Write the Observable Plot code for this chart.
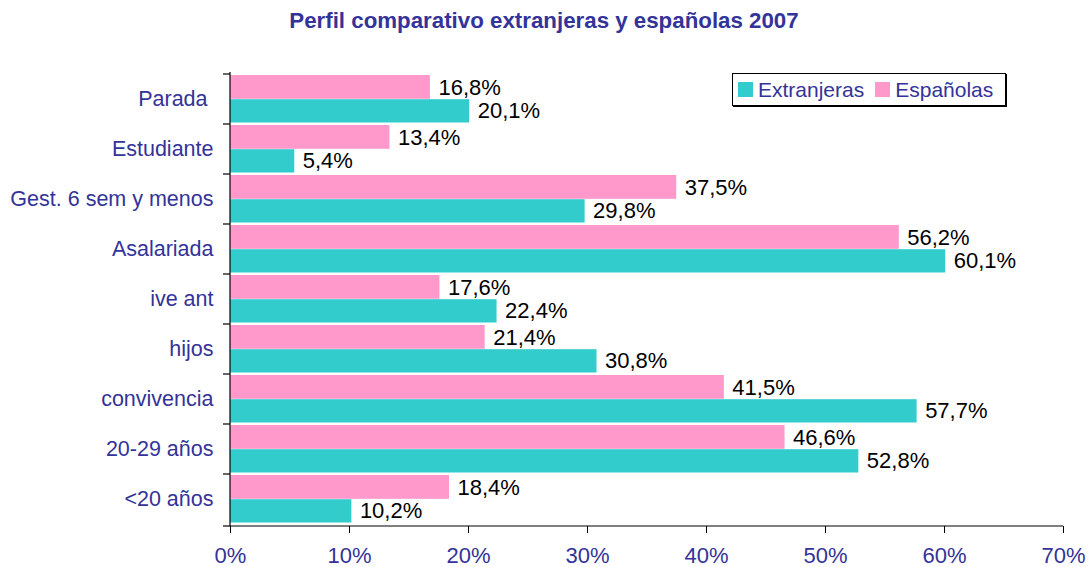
<!DOCTYPE html>
<html>
<head>
<meta charset="utf-8">
<script src="https://cdn.jsdelivr.net/npm/d3@7"></script>
<script src="https://cdn.jsdelivr.net/npm/@observablehq/plot@0.6"></script>
<style>
  body { margin: 0; background: #fff; font-family: Arial, "Liberation Sans", sans-serif; }
  #wrap { position: relative; width: 1088px; height: 567px; overflow: hidden; }
  #title { height: 40px; line-height: 42px; text-align: center; font-weight: bold; font-size: 22.3px; color: #333399; }
  #legend { position: absolute; left: 732px; top: 73px; width: 272px; height: 31px; border: 1px solid #000; box-shadow: 1px 1px 0 #000; background: #fff; display: flex; align-items: center; font-size: 21px; color: #333399; }
  .sw { width: 15px; height: 15px; display: inline-block; margin-right: 5px; }
  .item { display: flex; align-items: center; }
</style>
</head>
<body>
<div id="wrap">
  <div id="title">Perfil comparativo extranjeras y españolas 2007</div>
  <div id="chart"></div>
  <div id="legend"></div>
</div>
<script>
const categories = ["Parada ", "Estudiante", "Gest. 6 sem y menos", "Asalariada", "ive ant", "hijos", "convivencia", "20-29 años", "<20 años"];
const extranjeras = [20.1, 5.4, 29.8, 60.1, 22.4, 30.8, 57.7, 52.8, 10.2];
const espanolas = [16.8, 13.4, 37.5, 56.2, 17.6, 21.4, 41.5, 46.6, 18.4];
const seriesNames = ["Extranjeras", "Españolas"];
const seriesColors = ["#33CCCC", "#FF99CC"];
const xTicks = [0, 10, 20, 30, 40, 50, 60, 70];

const rowsExt = categories.map((c, i) => ({cat: c, value: extranjeras[i]}));
const rowsEsp = categories.map((c, i) => ({cat: c, value: espanolas[i]}));
const fmt = v => v.toFixed(1).replace(".", ",") + "%";
const FONT = "Arial, 'Liberation Sans', sans-serif";

const axisLines = (index, scales, values, dim) => {
  const g = d3.create("svg:g").attr("stroke", "#000").attr("stroke-width", 1.2);
  const x0 = scales.x(0);
  const xEnd = scales.x(xTicks[xTicks.length - 1]);
  const top = dim.marginTop;
  const bottom = dim.height - dim.marginBottom;
  g.append("line").attr("x1", x0).attr("x2", x0).attr("y1", top).attr("y2", bottom);
  g.append("line").attr("x1", x0).attr("x2", xEnd).attr("y1", bottom).attr("y2", bottom);
  const bounds = categories.map(c => scales.y(c)).concat([bottom]);
  for (const b of bounds) {
    g.append("line").attr("x1", x0 - 7).attr("x2", x0).attr("y1", b).attr("y2", b);
  }
  return g.node();
};

const chart = Plot.plot({
  width: 1088,
  height: 527,
  marginTop: 32,
  marginBottom: 41,
  marginLeft: 230,
  marginRight: 25,
  style: {fontFamily: FONT, background: "#fff", overflow: "visible"},
  x: {domain: [0, 70]},
  y: {type: "band", domain: categories, padding: 0},
  marks: [
    Plot.barX(rowsEsp, {x: "value", y: "cat", fill: seriesColors[1], insetTop: 1, insetBottom: 25.2}),
    Plot.barX(rowsExt, {x: "value", y: "cat", fill: seriesColors[0], insetTop: 25.2, insetBottom: 1.5}),
    Plot.text(rowsEsp, {x: "value", y: "cat", text: d => fmt(d.value), dx: 8, dy: -12, textAnchor: "start", fontSize: 22, fill: "#000"}),
    Plot.text(rowsExt, {x: "value", y: "cat", text: d => fmt(d.value), dx: 8, dy: 11.5, textAnchor: "start", fontSize: 22, fill: "#000"}),
    Plot.axisX({ticks: xTicks, tickFormat: d => d + "%", tickSize: 7, tickPadding: 14, fontSize: 22, fill: "#333399", stroke: "#000", label: null}),
    Plot.axisY({tickSize: 0, tickPadding: 17, fontSize: 21.5, fill: "#333399", label: null, tickFormat: d => d.replace(/ $/, "\u00a0")}),
    axisLines
  ]
});
document.getElementById("chart").appendChild(chart);

const legend = document.getElementById("legend");
seriesNames.forEach((name, i) => {
  const item = document.createElement("div");
  item.className = "item";
  item.style.marginLeft = i === 0 ? "5px" : "11px";
  const sw = document.createElement("span");
  sw.className = "sw";
  sw.style.background = seriesColors[i];
  item.appendChild(sw);
  item.appendChild(document.createTextNode(name));
  legend.appendChild(item);
});
</script>
</body>
</html>
